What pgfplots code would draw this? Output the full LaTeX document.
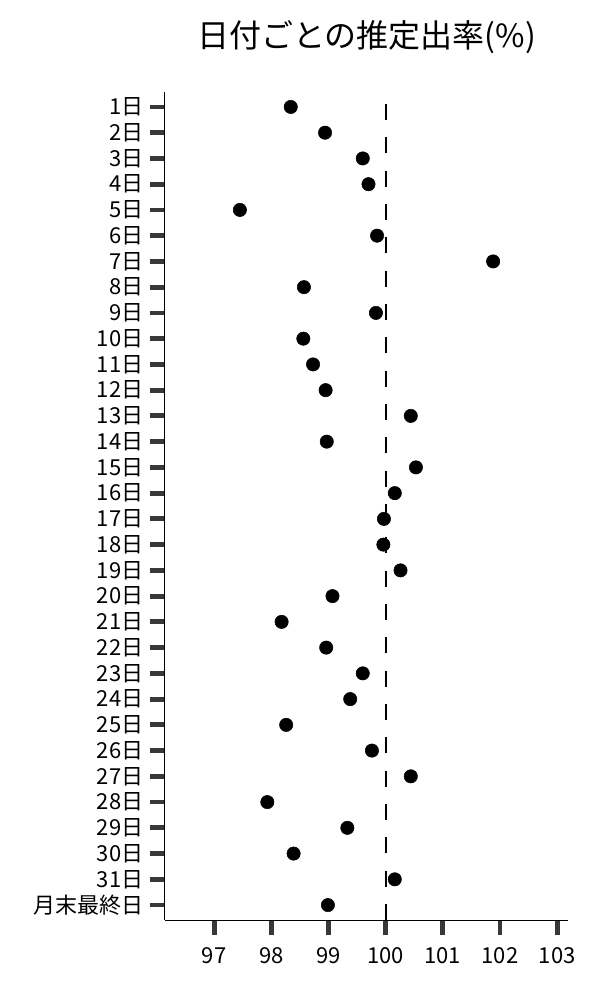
\documentclass[border=0pt]{standalone}
\usepackage{fontspec}
\setmainfont{Noto Sans CJK JP}
\usepackage{pgfplots}
\pgfplotsset{compat=1.18}
\usepackage{pgfplotstable}

% pos = row from the top (0 = 1日, 31 = 月末最終日)
\pgfplotstableread{
pos rate
0  98.34
1  98.94
2  99.60
3  99.70
4  97.45
5  99.85
6  101.88
7  98.57
8  99.83
9  98.56
10 98.73
11 98.95
12 100.44
13 98.97
14 100.53
15 100.16
16 99.97
17 99.96
18 100.26
19 99.07
20 98.18
21 98.96
22 99.60
23 99.38
24 98.26
25 99.76
26 100.44
27 97.93
28 99.33
29 98.39
30 100.16
31 98.99
}\ratetable

\begin{document}
\begin{tikzpicture}
\begin{axis}[
    at={(0,0)}, anchor=south west,
    scale only axis,
    width=302.25pt, height=621pt,
    xmin=96.14, xmax=103.19,
    ymin=-0.58, ymax=31.58,
    y dir=reverse,
    clip=false,
    axis x line*=bottom, axis y line*=left,
    axis line style={-, black, line width=0.75pt},
    xtick={97,...,103},
    ytick={0,...,31},
    yticklabels={1日,2日,3日,4日,5日,6日,7日,8日,9日,10日,11日,12日,13日,14日,15日,16日,17日,18日,19日,20日,21日,22日,23日,24日,25日,26日,27日,28日,29日,30日,31日,月末最終日},
    tick align=outside,
    major tick length=11.25pt,
    major tick style={line width=3.6pt, color=black!78},
    tick label style={font=\fontsize{16.5}{19}\selectfont},
    xticklabel style={yshift=-6pt},
    yticklabel style={xshift=-1.5pt},
    /pgf/number format/assume math mode=true,
    title={日付ごとの推定出率(\%)},
    title style={font=\fontsize{24}{28}\selectfont, anchor=base, at={(0.5,1)}, yshift=27.75pt},
]
\addplot[black, line width=1.5pt, dash pattern=on 12pt off 13pt] coordinates {(100,31.58) (100,-0.12)};
\addplot[only marks, mark=*, mark size=5pt, black] table[x=rate, y=pos] {\ratetable};
\end{axis}
\pgfresetboundingbox
\path[use as bounding box] (-123.75pt,-60pt) rectangle (326.25pt,690pt);
\end{tikzpicture}
\end{document}
